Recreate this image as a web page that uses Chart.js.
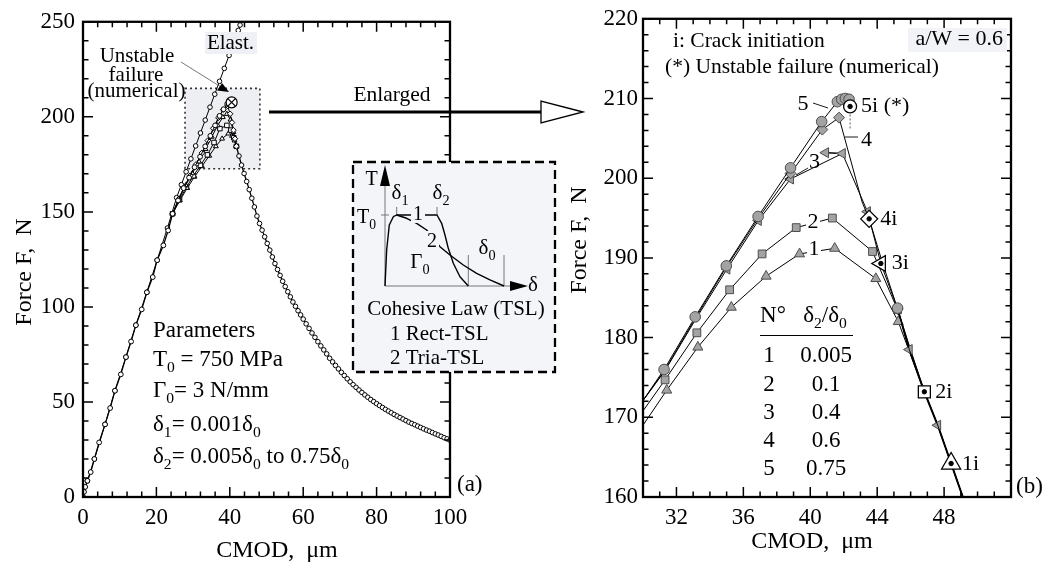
<!DOCTYPE html>
<html lang="fr">
<head>
<meta charset="utf-8">
<title>Force - CMOD</title>
<script src="https://cdn.jsdelivr.net/npm/chart.js@4.4.1/dist/chart.umd.min.js"></script>
<style>
  html, body { margin: 0; padding: 0; background: #fff; }
  #page { position: relative; width: 1051px; height: 566px; overflow: hidden; background: #fff; }
  .panel { position: absolute; top: 0; height: 566px; }
  #panelA { left: 0; width: 600px; }
  #panelB { left: 560px; width: 491px; }
</style>
</head>
<body>
<div id="page">
  <div class="panel" id="panelA"><canvas id="chartA"></canvas></div>
  <div class="panel" id="panelB"><canvas id="chartB"></canvas></div>
</div>
<script>
// ---------- Panneau (a) : courbe complète ----------
const xTicksA = [0, 20, 40, 60, 80, 100];
const yTicksA = [0, 50, 100, 150, 200, 250];

// montée commune
const loadX = [0, 0.27, 0.6, 1.2, 2.1, 3.1, 4.4, 6.0, 7.4, 8.7, 10.3, 11.7, 13.1, 14.4, 16.0, 17.4, 19.0, 20.2, 21.9, 23.2, 24.4];
const loadF = [0, 2.7, 5.3, 8.5, 13.1, 20.0, 28.7, 38.2, 46.8, 55.9, 64.5, 73.6, 81.8, 90.4, 98.7, 107.7, 115.7, 124.6, 132.4, 140.2, 149.0];

// droite élastique
const elastX = [0, 1.2, 3.1, 6.0, 8.7, 11.7, 14.4, 17.4, 20.2, 23.0, 25.5, 26.8, 28.1, 29.4, 30.7, 32.0, 33.3, 34.6, 35.9, 37.2, 38.5, 39.8, 41.1, 42.3, 42.8, 43.3];
const elastF = [0, 8.5, 20.0, 38.2, 55.9, 73.6, 90.4, 107.7, 124.6, 141.5, 157.5, 164.3, 171.1, 177.9, 184.7, 191.5, 198.3, 205.1, 211.9, 218.7, 225.5, 232.3, 239.1, 245.5, 248.3, 251.0];

// zone du pic (5 lois)
const c1AX = [24.4, 26.4, 28.4, 30.4, 32.4, 34.4, 36.2, 37.9, 39.6, 40.6, 41.3, 41.8];
const c1AF = [149, 156, 162.5, 168.5, 174, 179.5, 184.5, 188.5, 191.2, 190, 187.5, 184.5];
const c2AX = [24.4, 26.3, 28.2, 30.1, 32.0, 33.9, 35.7, 37.3, 39.2, 40.3, 41.1, 41.8];
const c2AF = [149, 156.5, 163, 169, 174.5, 180, 186.5, 193.8, 195.5, 193, 189, 184.5];
const c3AX = [24.4, 26.2, 28.0, 29.8, 31.6, 33.4, 35.1, 36.7, 38.1, 39.2, 40.2, 41.0, 41.8];
const c3AF = [149, 157, 164, 170.3, 176.5, 183, 189.5, 195.5, 199.8, 201.5, 198.5, 192, 184.5];
const c4AX = [24.4, 26.0, 27.6, 29.2, 30.8, 32.4, 34.0, 35.5, 36.9, 38.2, 39.4, 40.1, 40.6, 41.0, 41.4, 41.8];
const c4AF = [149, 156.5, 163, 169, 175, 181, 187.5, 194, 199.5, 203.8, 205.8, 201.6, 197, 193, 188.5, 184.5];
const c5AX = [24.4, 25.9, 27.4, 28.9, 30.4, 31.9, 33.3, 34.7, 36.0, 37.2, 38.3, 39.3, 40.0, 40.5];
const c5AF = [149, 156, 162.5, 168, 173.5, 179, 184.5, 190, 195.5, 200.5, 204, 206.8, 207.5, 207.6];

// adoucissement commun
const descAX = [41.8, 42.5, 43.2, 43.9, 44.6, 45.3, 46.0, 46.7, 47.4, 48.1, 48.8, 49.5, 50.2, 50.9, 51.6, 52.3, 53.0, 53.7, 54.4, 55.1, 55.8, 56.5, 57.2, 57.9, 58.6, 59.3, 60.0, 60.8, 61.6, 62.4, 63.2, 64.0, 64.8, 65.6, 66.4, 67.2, 68.0, 68.8, 69.6, 70.4, 71.2, 72.0, 72.8, 73.6, 74.4, 75.2, 76.0, 76.8, 77.6, 78.4, 79.2, 80.0, 80.8, 81.6, 82.4, 83.2, 84.0, 84.8, 85.6, 86.4, 87.2, 88.0, 88.8, 89.6, 90.4, 91.2, 92.0, 92.8, 93.6, 94.4, 95.2, 96.0, 96.8, 97.6, 98.4, 99.2, 100];
const descAF = [184.5, 179.4, 174.6, 170.2, 166.0, 161.7, 157.2, 152.6, 147.8, 143.9, 140.4, 136.9, 133.4, 129.9, 126.3, 122.8, 119.7, 116.6, 113.5, 110.7, 108.0, 105.3, 102.6, 100.3, 98.0, 95.8, 93.6, 91.1, 88.7, 86.3, 84.0, 81.7, 79.5, 77.4, 75.3, 73.0, 71.1, 69.2, 67.4, 65.6, 63.9, 62.2, 60.6, 59.1, 57.7, 56.3, 55.0, 53.7, 52.5, 51.3, 50.2, 49.1, 48.1, 47.1, 46.1, 45.2, 44.3, 43.4, 42.6, 41.8, 41.0, 40.2, 39.4, 38.7, 38.0, 37.3, 36.6, 35.9, 35.2, 34.6, 33.9, 33.2, 32.6, 31.9, 31.2, 30.6, 29.9];

const failAX = [40.5];
const failAF = [207.6];
const zoomBoxX = [27.8, 48.2];
const zoomBoxF = [172.7, 215];

// ---------- Panneau (b) : agrandissement ----------
const xTicksB = [32, 36, 40, 44, 48];
const yTicksB = [160, 170, 180, 190, 200, 210, 220];

const c1X = [30.0, 31.42, 33.28, 35.28, 37.36, 39.36, 41.46, 43.92, 45.26, 46.82, 47.62, 48.42, 49.12];
const c1F = [169.0, 173.4, 178.8, 183.8, 187.7, 190.5, 191.2, 187.4, 182.0, 173.2, 169.0, 164.2, 160.0];
const c2X = [30.0, 31.32, 33.22, 35.18, 37.12, 39.16, 41.32, 43.72, 45.22, 46.82, 47.62, 48.42, 49.12];
const c2F = [170.8, 174.7, 180.6, 186.0, 190.5, 193.8, 195.0, 190.8, 183.5, 173.2, 169.0, 164.2, 160.0];
const c3X = [30.0, 31.3, 33.15, 35.02, 36.9, 38.82, 41.92, 40.92, 41.92, 43.42, 44.22, 45.22, 45.92, 46.82, 47.62, 48.42, 49.12];
const c3F = [172.1, 175.8, 182.3, 188.6, 194.7, 199.9, 203.1, 203.2, 203.1, 195.8, 189.3, 183.6, 178.5, 173.2, 169.0, 164.2, 160.0];
const c4X = [30.0, 31.3, 33.15, 35.0, 36.9, 38.82, 40.72, 41.72, 43.1, 43.52, 44.3, 45.22, 45.92, 46.82, 47.62, 48.42, 49.12];
const c4F = [172.1, 175.9, 182.5, 188.9, 195.0, 200.6, 206.1, 207.6, 197.0, 194.9, 189.5, 183.6, 178.5, 173.2, 169.0, 164.2, 160.0];
const c5X = [30.0, 31.26, 33.12, 34.98, 36.88, 38.82, 40.68, 41.62, 41.88, 42.1, 42.32, 42.38];
const c5F = [172.1, 176.0, 182.6, 189.0, 195.2, 201.3, 207.1, 209.6, 209.9, 210.0, 209.9, 209.0];
const c5PostX = [45.22];
const c5PostF = [183.7];
const jumpX = [42.38, 42.38];
const jumpF = [209.0, 206.0];
const descBX = [45.22, 45.92, 46.82, 47.62, 48.42, 49.12, 49.4];
const descBF = [183.6, 178.5, 173.2, 169.0, 164.2, 160.0, 158.3];

const initX = [48.42, 46.82, 44.22, 43.52, 42.38];
const initF = [164.2, 173.2, 189.3, 194.9, 209.0];
const initLabels = ['1i', '2i', '3i', '4i', '5i (*)'];

const tableN = ['1', '2', '3', '4', '5'];
const tableRatio = ['0.005', '0.1', '0.4', '0.6', '0.75'];

// schéma de la loi cohésive (unités relatives δ/δ0, T/T0)
const rectU = [0, 0.014, 0.036, 0.070, 0.098, 0.437, 0.476, 0.504, 0.532, 0.574, 0.630, 0.700];
const rectV = [0, 0.507, 0.859, 0.976, 1.0, 1.0, 0.883, 0.718, 0.531, 0.320, 0.131, 0];
const triaU = [0.098, 0.182, 0.266, 0.350, 0.462, 0.546, 0.658, 0.770, 0.882, 1.0];
const triaV = [1.0, 0.954, 0.883, 0.789, 0.554, 0.437, 0.296, 0.178, 0.085, 0.0];

// ---------- outils ----------
const SERIF = '"Liberation Serif", "Times New Roman", serif';
const GRIS = '#a3a3a3';
const GRIS_BORD = '#4d4d4d';

function font(sz) { return sz + 'px ' + SERIF; }

function pts(xs, ys) {
    return xs.map((x, i) => ({ x: x, y: ys[i] }));
}

function rayons(n, idx, r) {
    const out = new Array(n).fill(0);
    idx.forEach(i => { out[i] = r; });
    return out;
}

function serie(xs, ys, o) {
    return Object.assign({
        data: pts(xs, ys),
        borderColor: '#000',
        borderWidth: 1,
        pointRadius: 2.4,
        pointBorderWidth: 1,
        pointBorderColor: '#000',
        pointBackgroundColor: '#fff',
        pointStyle: 'circle',
        showLine: true,
        fill: false,
        tension: 0,
        spanGaps: false
    }, o);
}

function txt(ctx, s, x, y, size, align) {
    ctx.font = font(size);
    ctx.textAlign = align || 'left';
    ctx.textBaseline = 'alphabetic';
    ctx.fillStyle = '#000';
    ctx.fillText(s, x, y);
}

// texte avec indices : parts = [[texte, indice?], ...]
function rich(ctx, parts, x, y, size, align) {
    let w = 0;
    parts.forEach(p => {
        ctx.font = font(p[1] ? size * 0.68 : size);
        w += ctx.measureText(p[0]).width;
    });
    let cx = align === 'center' ? x - w / 2 : (align === 'right' ? x - w : x);
    ctx.textAlign = 'left';
    ctx.textBaseline = 'alphabetic';
    ctx.fillStyle = '#000';
    parts.forEach(p => {
        ctx.font = font(p[1] ? size * 0.68 : size);
        ctx.fillText(p[0], cx, p[1] ? y + size * 0.28 : y);
        cx += ctx.measureText(p[0]).width;
    });
}

function seg(ctx, x1, y1, x2, y2) {
    ctx.beginPath();
    ctx.moveTo(x1, y1);
    ctx.lineTo(x2, y2);
    ctx.stroke();
}

function triangle(ctx, a, b, c, fill, stroke) {
    ctx.beginPath();
    ctx.moveTo(a[0], a[1]);
    ctx.lineTo(b[0], b[1]);
    ctx.lineTo(c[0], c[1]);
    ctx.closePath();
    if (fill) { ctx.fillStyle = fill; ctx.fill(); }
    if (stroke) { ctx.strokeStyle = stroke; ctx.stroke(); }
}

function estMajeur(v, m) {
    return Math.abs(v / m - Math.round(v / m)) < 1e-6;
}

// cadre + graduations intérieures sur les 4 côtés
const cadre = {
    id: 'cadre',
    afterDatasetsDraw(chart, args, o) {
        const ctx = chart.ctx;
        const a = chart.chartArea;
        const sx = chart.scales.x, sy = chart.scales.y;
        ctx.save();
        ctx.strokeStyle = '#000';
        ctx.lineWidth = 1.5;
        ctx.beginPath();
        const nx = Math.round((sx.max - sx.min) / o.xMinor);
        for (let i = 0; i <= nx; i++) {
            const v = sx.min + i * o.xMinor;
            const p = sx.getPixelForValue(v);
            const l = estMajeur(v, o.xMajor) ? 10 : 5.5;
            ctx.moveTo(p, a.bottom); ctx.lineTo(p, a.bottom - l);
            ctx.moveTo(p, a.top); ctx.lineTo(p, a.top + l);
        }
        const ny = Math.round((sy.max - sy.min) / o.yMinor);
        for (let i = 0; i <= ny; i++) {
            const v = sy.min + i * o.yMinor;
            const p = sy.getPixelForValue(v);
            const l = estMajeur(v, o.yMajor) ? 10 : 5.5;
            ctx.moveTo(a.left, p); ctx.lineTo(a.left + l, p);
            ctx.moveTo(a.right, p); ctx.lineTo(a.right - l, p);
        }
        ctx.stroke();
        ctx.lineWidth = 2.3;
        ctx.strokeRect(a.left, a.top, a.right - a.left, a.bottom - a.top);
        ctx.restore();
    }
};

function axes(xmin, xmax, ymin, ymax, xt, yt, yPad) {
    const tickFont = { family: SERIF, size: 23 };
    return {
        x: {
            type: 'linear', min: xmin, max: xmax,
            afterBuildTicks: s => { s.ticks = xt.map(v => ({ value: v })); },
            ticks: { font: tickFont, color: '#000', padding: 7, maxRotation: 0, autoSkip: false },
            grid: { display: false, drawTicks: false },
            border: { display: false },
            afterFit: s => { s.height = 566 - 497; }
        },
        y: {
            type: 'linear', min: ymin, max: ymax,
            afterBuildTicks: s => { s.ticks = yt.map(v => ({ value: v })); },
            ticks: { font: tickFont, color: '#000', padding: yPad, autoSkip: false },
            grid: { display: false, drawTicks: false },
            border: { display: false },
            afterFit: s => { s.width = 83; }
        }
    };
}

// ---------- panneau (a) ----------
const zoneGrise = {
    id: 'zoneGrise',
    beforeDatasetsDraw(chart) {
        const ctx = chart.ctx, sx = chart.scales.x, sy = chart.scales.y;
        const x1 = sx.getPixelForValue(zoomBoxX[0]), x2 = sx.getPixelForValue(zoomBoxX[1]);
        const y1 = sy.getPixelForValue(zoomBoxF[1]), y2 = sy.getPixelForValue(zoomBoxF[0]);
        ctx.save();
        ctx.fillStyle = '#eeeff2';
        ctx.fillRect(x1, y1, x2 - x1, y2 - y1);
        ctx.setLineDash([2, 3]);
        ctx.lineWidth = 1.6;
        ctx.strokeStyle = '#333';
        ctx.strokeRect(x1, y1, x2 - x1, y2 - y1);
        ctx.restore();
    }
};

function dessinerTSL(ctx) {
    const bx = 353, by = 162, bw = 202, bh = 210;
    ctx.fillStyle = '#f4f5f9';
    ctx.fillRect(bx, by, bw, bh);
    ctx.setLineDash([9, 5]);
    ctx.lineWidth = 2.3;
    ctx.strokeStyle = '#000';
    ctx.strokeRect(bx, by, bw, bh);
    ctx.setLineDash([]);

    const ox = 385, oy = 286, su = 119, sv = 71;
    const P = (u, v) => [ox + u * su, oy - v * sv];

    // axes
    ctx.strokeStyle = '#777';
    ctx.lineWidth = 1;
    seg(ctx, ox, oy, ox, 184);
    seg(ctx, ox, oy, 512, oy);
    triangle(ctx, [ox, 165], [ox - 5, 186], [ox + 5, 186], '#000');
    triangle(ctx, [528, oy], [510, oy - 5], [510, oy + 5], '#000');

    // repères
    seg(ctx, 381, oy - sv, 389, oy - sv);
    [0.098, 0.437].forEach(u => { const p = P(u, 1.0); seg(ctx, p[0], p[1], p[0], p[1] - 8); });
    [0.70, 1.0].forEach(u => { const p = P(u, 0); seg(ctx, p[0], p[1], p[0], P(u, 0.437)[1]); });

    // lois
    ctx.strokeStyle = '#000';
    ctx.lineWidth = 1.4;
    ctx.lineJoin = 'round';
    [[rectU, rectV], [triaU, triaV]].forEach(c => {
        ctx.beginPath();
        c[0].forEach((u, i) => {
            const p = P(u, c[1][i]);
            if (i === 0) ctx.moveTo(p[0], p[1]); else ctx.lineTo(p[0], p[1]);
        });
        ctx.stroke();
    });

    // étiquettes
    ctx.fillStyle = '#f4f5f9';
    ctx.fillRect(411, 206, 14, 17);
    ctx.fillRect(425, 231, 14, 18);
    txt(ctx, '1', 418, 220, 20, 'center');
    txt(ctx, '2', 432, 247, 20, 'center');
    txt(ctx, 'T', 371.5, 185, 20, 'center');
    txt(ctx, 'δ', 528, 291, 21, 'left');
    rich(ctx, [['T', 0], ['0', 1]], 376, 223, 20, 'right');
    rich(ctx, [['δ', 0], ['1', 1]], 400, 199, 21, 'center');
    rich(ctx, [['δ', 0], ['2', 1]], 441, 199, 21, 'center');
    rich(ctx, [['δ', 0], ['0', 1]], 487, 254, 21, 'center');
    rich(ctx, [['Γ', 0], ['0', 1]], 420, 268, 21, 'center');
    txt(ctx, 'Cohesive Law (TSL)', 456, 315, 21, 'center');
    txt(ctx, '1 Rect-TSL', 390, 340, 21, 'left');
    txt(ctx, '2 Tria-TSL', 390, 364, 21, 'left');
}

const annotA = {
    id: 'annotA',
    afterDraw(chart) {
        const ctx = chart.ctx;
        ctx.save();

        // Elast.
        ctx.fillStyle = '#eef0f5';
        ctx.fillRect(205, 32, 52, 22);
        txt(ctx, 'Elast.', 230.5, 49, 21, 'center');

        // rupture instable
        txt(ctx, 'Unstable', 137, 62, 21, 'center');
        txt(ctx, 'failure', 136, 81, 21, 'center');
        txt(ctx, '(numerical)', 136.5, 97, 21, 'center');
        ctx.strokeStyle = '#555';
        ctx.lineWidth = 0.8;
        seg(ctx, 181, 62, 221, 87);
        triangle(ctx, [229, 92], [217, 90.5], [222, 83], '#000');

        // flèche "Enlarged"
        txt(ctx, 'Enlarged', 392, 101, 21.5, 'center');
        ctx.strokeStyle = '#000';
        ctx.lineWidth = 3;
        seg(ctx, 269, 112, 541, 112);
        ctx.lineWidth = 1.3;
        triangle(ctx, [583, 112], [541, 101], [541, 123], '#fff', '#000');

        // encart loi cohésive
        dessinerTSL(ctx);

        // paramètres
        txt(ctx, 'Parameters', 153, 337, 23, 'left');
        rich(ctx, [['T', 0], ['0', 1], [' = 750 MPa', 0]], 153, 366, 23, 'left');
        rich(ctx, [['Γ', 0], ['0', 1], ['= 3 N/mm', 0]], 153, 397, 23, 'left');
        rich(ctx, [['δ', 0], ['1', 1], ['= 0.001δ', 0], ['0', 1]], 153, 431, 23, 'left');
        rich(ctx, [['δ', 0], ['2', 1], ['= 0.005δ', 0], ['0', 1], [' to 0.75δ', 0], ['0', 1]], 153, 463, 23, 'left');

        txt(ctx, '(a)', 457, 491, 23, 'left');

        // titres des axes
        txt(ctx, 'CMOD,  μm', 277, 557, 24, 'center');
        ctx.translate(31, 272);
        ctx.rotate(-Math.PI / 2);
        txt(ctx, 'Force F,  N', 0, 0, 24, 'center');
        ctx.restore();
    }
};

new Chart(document.getElementById('chartA'), {
    type: 'line',
    data: {
        datasets: [
            serie(failAX, failAF, { pointStyle: 'crossRot', pointRadius: 5, pointBorderWidth: 1.2, showLine: false }),
            serie(failAX, failAF, { pointRadius: 5.5, pointBorderWidth: 1.2, showLine: false }),
            serie(c5AX, c5AF, {}),
            serie(c4AX, c4AF, { pointStyle: 'rectRot', pointRadius: 2.8 }),
            serie(c3AX, c3AF, { pointStyle: 'triangle', pointRadius: 2.8 }),
            serie(c2AX, c2AF, { pointStyle: 'rect', pointRadius: 3.2 }),
            serie(c1AX, c1AF, { pointStyle: 'triangle', pointRadius: 2.8 }),
            serie(loadX, loadF, { borderWidth: 1.3 }),
            serie(descAX, descAF, { borderWidth: 1.3, pointRadius: 2.3 }),
            serie(elastX, elastF, {
                pointRadius: elastX.map((x, i) => (i === elastX.length - 1 ? 0 : 2.3))
            })
        ]
    },
    options: {
        responsive: true,
        maintainAspectRatio: false,
        animation: false,
        events: [],
        layout: { padding: { top: 15, right: 150, left: 0, bottom: 0 } },
        plugins: {
            legend: { display: false },
            tooltip: { enabled: false },
            cadre: { xMinor: 4, xMajor: 20, yMinor: 10, yMajor: 50 }
        },
        scales: axes(0, 100, 0, 250, xTicksA, yTicksA, 8)
    },
    plugins: [zoneGrise, cadre, annotA]
});

// ---------- panneau (b) ----------
const annotB = {
    id: 'annotB',
    afterDraw(chart) {
        const ctx = chart.ctx, sx = chart.scales.x, sy = chart.scales.y;
        ctx.save();
        ctx.translate(-560, 0);   // coordonnées de la page

        txt(ctx, 'i: Crack initiation', 673, 47, 21.5, 'left');
        txt(ctx, '(*) Unstable failure (numerical)', 665, 73, 21.5, 'left');
        ctx.fillStyle = '#f2f3f7';
        ctx.fillRect(908, 28, 99, 24);
        txt(ctx, 'a/W = 0.6', 1003, 45, 22, 'right');

        // repères des courbes
        ctx.strokeStyle = '#000';
        ctx.lineWidth = 0.9;
        seg(ctx, 813, 103, 828, 108);
        txt(ctx, '5', 803, 110, 22, 'center');
        seg(ctx, 845, 137, 858, 137);
        txt(ctx, '4', 861, 146, 22, 'left');
        seg(ctx, 796, 175, 808, 168);
        txt(ctx, '3', 809, 168, 22, 'left');
        ctx.fillStyle = '#fff';
        ctx.fillRect(806, 212, 14, 19);
        ctx.fillRect(807, 238, 14, 19);
        txt(ctx, '2', 813, 228, 22, 'center');
        txt(ctx, '1', 814, 255, 22, 'center');

        // étiquettes d'amorçage
        initX.forEach((x, i) => {
            const px = sx.getPixelForValue(x) + 560, py = sy.getPixelForValue(initF[i]);
            txt(ctx, initLabels[i], px + 11, py + 6, 22, 'left');
        });

        // tableau
        txt(ctx, 'N°', 773, 322, 23, 'center');
        rich(ctx, [['δ', 0], ['2', 1], ['/δ', 0], ['0', 1]], 825, 322, 23, 'center');
        ctx.lineWidth = 1;
        seg(ctx, 760, 335.5, 853, 335.5);
        const rowY = [362, 391, 419, 447, 475];
        tableN.forEach((n, i) => {
            txt(ctx, n, 769, rowY[i], 23, 'center');
            txt(ctx, tableRatio[i], 826, rowY[i], 23, 'center');
        });

        txt(ctx, '(b)', 1016, 493, 23, 'left');

        txt(ctx, 'CMOD,  μm', 812, 548, 24, 'center');
        ctx.translate(586, 240);
        ctx.rotate(-Math.PI / 2);
        txt(ctx, 'Force F,  N', 0, 0, 24, 'center');
        ctx.restore();
    }
};

const gris = { pointBackgroundColor: GRIS, pointBorderColor: GRIS_BORD, pointBorderWidth: 1 };

new Chart(document.getElementById('chartB'), {
    type: 'line',
    data: {
        datasets: [
            serie(initX, initF, { showLine: false, pointRadius: 2.2, pointBackgroundColor: '#000' }),
            serie(initX, initF, {
                showLine: false,
                pointStyle: ['triangle', 'rect', 'triangle', 'rectRot', 'circle'],
                pointRotation: [0, 0, -90, 0, 0],
                pointRadius: [11, 8.5, 9, 8.5, 6.5],
                pointBorderWidth: 1.3
            }),
            serie(c5X, c5F, Object.assign({ pointRadius: rayons(c5X.length, [1, 2, 3, 4, 5, 6, 7, 8, 9, 10], 5.3) }, gris)),
            serie(c5PostX, c5PostF, Object.assign({ showLine: false, pointRadius: 5.3 }, gris)),
            serie(jumpX, jumpF, { borderDash: [2, 2], borderColor: '#555', pointRadius: 0 }),
            serie(c4X, c4F, Object.assign({ pointStyle: 'rectRot', pointRadius: rayons(c4X.length, [5, 6, 7, 11, 13], 5.5) }, gris)),
            serie(c3X, c3F, Object.assign({
                pointStyle: 'triangle', pointRotation: -90,
                pointRadius: rayons(c3X.length, [3, 4, 5, 6, 7, 9, 12, 14], 5.8)
            }, gris)),
            serie(c2X, c2F, Object.assign({ pointStyle: 'rect', pointRadius: rayons(c2X.length, [1, 2, 3, 4, 5, 6, 7, 8, 9], 5.5) }, gris)),
            serie(c1X, c1F, Object.assign({ pointStyle: 'triangle', pointRadius: rayons(c1X.length, [1, 2, 3, 4, 5, 6, 7, 8, 11], 5.8) }, gris)),
            serie(descBX, descBF, { borderWidth: 2, pointRadius: 0 })
        ]
    },
    options: {
        responsive: true,
        maintainAspectRatio: false,
        animation: false,
        events: [],
        layout: { padding: { top: 15, right: 40, left: 0, bottom: 0 } },
        plugins: {
            legend: { display: false },
            tooltip: { enabled: false },
            cadre: { xMinor: 1, xMajor: 4, yMinor: 2, yMajor: 10 }
        },
        scales: axes(30, 52, 160, 220, xTicksB, yTicksB, 5)
    },
    plugins: [cadre, annotB]
});
</script>
</body>
</html>
